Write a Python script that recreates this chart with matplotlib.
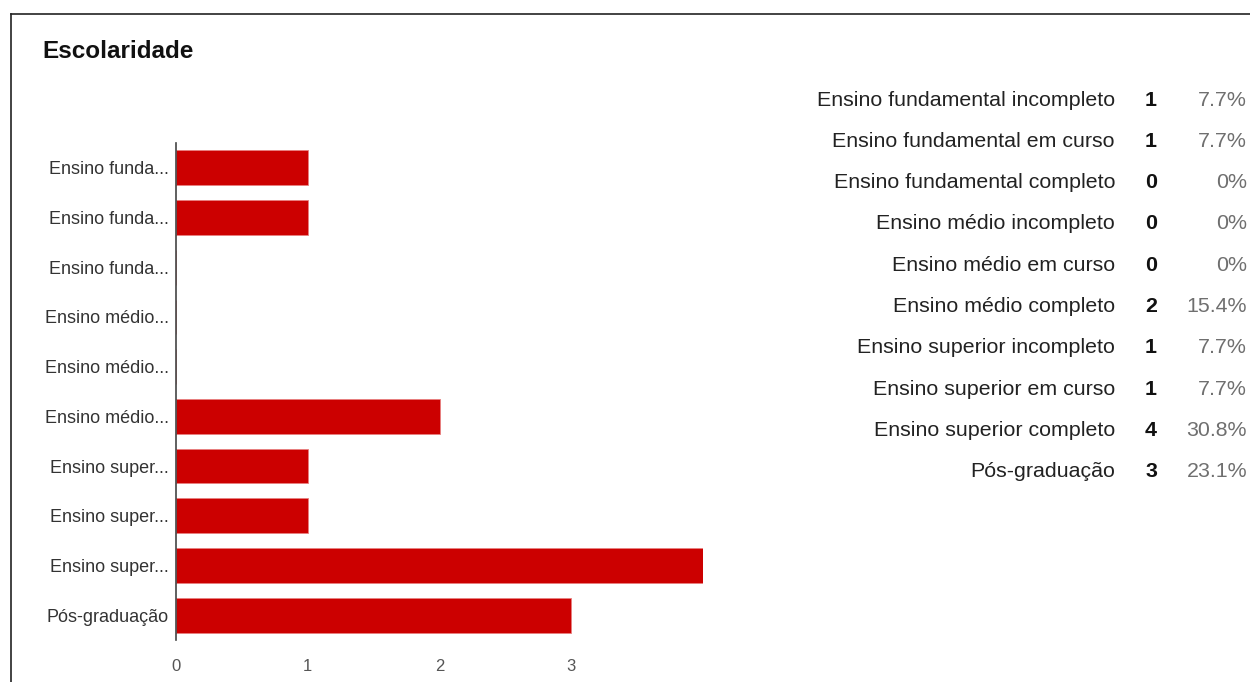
import matplotlib
matplotlib.use('Agg')
import matplotlib.pyplot as plt
from matplotlib.lines import Line2D

plt.rcParams['font.family'] = ['Liberation Sans', 'DejaVu Sans']

# Respostas da pergunta "Escolaridade"
categorias = ['Ensino fundamental incompleto', 'Ensino fundamental em curso',
              'Ensino fundamental completo', 'Ensino médio incompleto',
              'Ensino médio em curso', 'Ensino médio completo',
              'Ensino superior incompleto', 'Ensino superior em curso',
              'Ensino superior completo', 'Pós-graduação']
rotulos_curtos = ['Ensino funda...', 'Ensino funda...', 'Ensino funda...',
                  'Ensino médio...', 'Ensino médio...', 'Ensino médio...',
                  'Ensino super...', 'Ensino super...', 'Ensino super...',
                  'Pós-graduação']
contagens = [1, 1, 0, 0, 0, 2, 1, 1, 4, 3]
percentuais = ['7.7%', '7.7%', '0%', '0%', '0%', '15.4%', '7.7%', '7.7%', '30.8%', '23.1%']
ticks_x = [0, 1, 2, 3]

fig = plt.figure(figsize=(12.5, 6.82), dpi=100)

# moldura do cartão (só topo e lado esquerdo aparecem)
fig.add_artist(Line2D([11 / 1250, 11 / 1250], [0, 1 - 14 / 682], color='#222222', lw=1.2))
fig.add_artist(Line2D([11 / 1250, 1], [1 - 14 / 682, 1 - 14 / 682], color='#222222', lw=1.2))

fig.text(42 / 1250, 1 - 51 / 682, 'Escolaridade', fontsize=17.5, fontweight='bold',
         color='#111111', va='center', ha='left')

ax = fig.add_axes([176 / 1250, 1 - 640 / 682, 527 / 1250, 497 / 682])
pos = list(range(len(categorias)))
ax.barh(pos, contagens, height=0.7, color='#cc0000', edgecolor='#e88080', linewidth=0.6)
ax.set_ylim(len(categorias) - 0.5, -0.5)
ax.set_xlim(0, 4)
ax.set_yticks(pos)
ax.set_yticklabels(rotulos_curtos, fontsize=13, color='#333333')
ax.set_xticks(ticks_x)
ax.set_xticklabels([str(t) for t in ticks_x], fontsize=12, color='#555555')
ax.tick_params(axis='both', length=0)
ax.tick_params(axis='y', pad=5)
ax.tick_params(axis='x', pad=14)
for lado in ['top', 'right', 'bottom']:
    ax.spines[lado].set_visible(False)
ax.spines['left'].set_color('#444444')
ax.spines['left'].set_linewidth(1.2)

# tabela de resumo à direita
y0 = 100
passo = 41.3
for i, (nome, n, p) in enumerate(zip(categorias, contagens, percentuais)):
    y = 1 - (y0 + i * passo) / 682
    fig.text(1115 / 1250, y, nome, fontsize=15.4, color='#222222', ha='right', va='center')
    fig.text(1151 / 1250, y, str(n), fontsize=15.4, fontweight='bold', color='#111111',
             ha='center', va='center')
    fig.text(1247 / 1250, y, p, fontsize=15.4, color='#6f6f6f', ha='right', va='center')

fig.savefig('out.png', dpi=100)
